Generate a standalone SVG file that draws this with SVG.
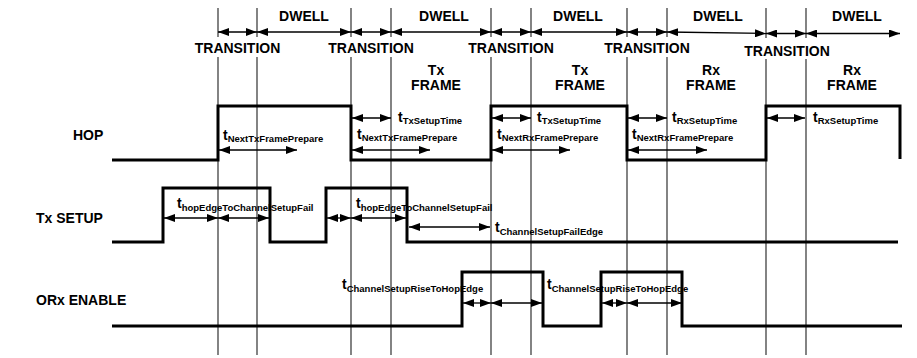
<svg xmlns="http://www.w3.org/2000/svg" width="917" height="358" viewBox="0 0 917 358">
<style>
text{font-family:"Liberation Sans",Arial,sans-serif;font-weight:bold;fill:#000}
.lbl{font-size:14px}
.mid{text-anchor:middle}
.t{font-size:14px}
.sub{font-size:9.5px}
.grid{stroke:#333;stroke-width:1.2;fill:none}
.sig{stroke:#000;stroke-width:3;fill:none;stroke-linejoin:miter}
.arr{stroke:#000;stroke-width:1.3;fill:none;marker-start:url(#ah);marker-end:url(#ah)}
</style>
<defs>
<marker id="ah" markerUnits="userSpaceOnUse" markerWidth="11" markerHeight="8" refX="11" refY="4" orient="auto-start-reverse"><path d="M0,0 L11,4 L0,8 Z" fill="#000"/></marker>
</defs>
<rect width="917" height="358" fill="#fff"/>

<g id="grid">
<path class="grid" d="M218,8 V37 M218,57 V355 M257,8 V37 M257,57 V355 M351,8 V37 M351,57 V355 M391,8 V37 M391,57 V355 M491,8 V37 M491,57 V355 M531,8 V37 M531,57 V355 M627,8 V37 M627,57 V355 M667,8 V37 M667,57 V355 M766,8 V38 M766,59 V355 M806,8 V38 M806,59 V355"/>
</g>

<g id="header">
<text class="lbl mid" x="304" y="21">DWELL</text>
<text class="lbl mid" x="444" y="21">DWELL</text>
<text class="lbl mid" x="578" y="21">DWELL</text>
<text class="lbl mid" x="718" y="21">DWELL</text>
<text class="lbl mid" x="857" y="21">DWELL</text>
<text class="lbl mid" x="237.5" y="53">TRANSITION</text>
<text class="lbl mid" x="371" y="53">TRANSITION</text>
<text class="lbl mid" x="511" y="53">TRANSITION</text>
<text class="lbl mid" x="647" y="53">TRANSITION</text>
<text class="lbl mid" x="787" y="56">TRANSITION</text>
<text class="lbl mid" x="436" y="75">Tx</text>
<text class="lbl mid" x="436" y="90">FRAME</text>
<text class="lbl mid" x="580" y="75">Tx</text>
<text class="lbl mid" x="580" y="90">FRAME</text>
<text class="lbl mid" x="711" y="75">Rx</text>
<text class="lbl mid" x="711" y="90">FRAME</text>
<text class="lbl mid" x="852" y="75">Rx</text>
<text class="lbl mid" x="852" y="90">FRAME</text>
</g>

<g id="hop">
<text class="lbl" x="73" y="140">HOP</text>
<path class="sig" d="M112,160 H218 V106 H351 V160 H491 V106 H627 V160 H766 V106 H900 V159"/>
</g>
<g id="txsetup">
<text class="lbl" x="36" y="223">Tx SETUP</text>
<path class="sig" d="M112,242 H163 V188 H270 V242 H326 V188 H407 V242 H898"/>
</g>
<g id="orx">
<text class="lbl" x="36" y="305">ORx ENABLE</text>
<path class="sig" d="M112,326 H462 V272 H543 V326 H601 V272 H682 V326 H902"/>
</g>

<g id="connectors">
<line class="arr" x1="218" y1="32" x2="257" y2="32"/>
<line class="arr" x1="257" y1="32" x2="351" y2="32"/>
<line class="arr" x1="351" y1="32" x2="391" y2="32"/>
<line class="arr" x1="391" y1="32" x2="491" y2="32"/>
<line class="arr" x1="491" y1="32" x2="531" y2="32"/>
<line class="arr" x1="531" y1="32" x2="627" y2="32"/>
<line class="arr" x1="627" y1="32" x2="667" y2="32"/>
<line class="arr" x1="667" y1="32" x2="766" y2="33.5"/>
<line class="arr" x1="766" y1="33.5" x2="806" y2="33.5"/>
<line class="arr" x1="806" y1="33.5" x2="900" y2="33.5"/>

<line class="arr" x1="219" y1="150" x2="297" y2="150"/>
<line class="arr" x1="352" y1="118" x2="391" y2="118"/>
<line class="arr" x1="352" y1="150" x2="430" y2="150"/>
<line class="arr" x1="492" y1="118" x2="531" y2="118"/>
<line class="arr" x1="492" y1="150" x2="570" y2="150"/>
<line class="arr" x1="628" y1="118" x2="667" y2="118"/>
<line class="arr" x1="628" y1="150" x2="707" y2="150"/>
<line class="arr" x1="767" y1="118" x2="805" y2="118"/>

<line class="arr" x1="164" y1="218" x2="218" y2="218"/>
<line class="arr" x1="218" y1="218" x2="269" y2="218"/>
<line class="arr" x1="327" y1="218" x2="351" y2="218"/>
<line class="arr" x1="351" y1="218" x2="406" y2="218"/>
<line class="arr" x1="409" y1="227" x2="490" y2="227"/>

<line class="arr" x1="463" y1="303" x2="491" y2="303"/>
<line class="arr" x1="491" y1="303" x2="542" y2="303"/>
<line class="arr" x1="602" y1="303" x2="627" y2="303"/>
<line class="arr" x1="627" y1="303" x2="682" y2="303"/>
</g>

<g id="timing-labels">
<text class="t" x="223" y="139.5">t<tspan class="sub" dy="2.5">NextTxFramePrepare</tspan></text>
<text class="t" x="398" y="122">t<tspan class="sub" dy="2">TxSetupTime</tspan></text>
<text class="t" x="357" y="138.5">t<tspan class="sub" dy="2.5">NextTxFramePrepare</tspan></text>
<text class="t" x="537" y="122">t<tspan class="sub" dy="2">TxSetupTime</tspan></text>
<text class="t" x="497" y="138.5">t<tspan class="sub" dy="2.5">NextRxFramePrepare</tspan></text>
<text class="t" x="672" y="122">t<tspan class="sub" dy="2">RxSetupTime</tspan></text>
<text class="t" x="632" y="138.5">t<tspan class="sub" dy="2.5">NextRxFramePrepare</tspan></text>
<text class="t" x="813" y="122">t<tspan class="sub" dy="2">RxSetupTime</tspan></text>

<text class="t" x="177" y="208">t<tspan class="sub" dy="2.5">hopEdgeToChannelSetupFail</tspan></text>
<text class="t" x="356" y="208">t<tspan class="sub" dy="2.5">hopEdgeToChannelSetupFail</tspan></text>
<text class="t" x="495" y="232">t<tspan class="sub" dy="3">ChannelSetupFailEdge</tspan></text>

<text class="t" x="342" y="288.5">t<tspan class="sub" dy="3.5">ChannelSetupRiseToHopEdge</tspan></text>
<text class="t" x="547" y="288.5">t<tspan class="sub" dy="3.5">ChannelSetupRiseToHopEdge</tspan></text>
</g>
</svg>
